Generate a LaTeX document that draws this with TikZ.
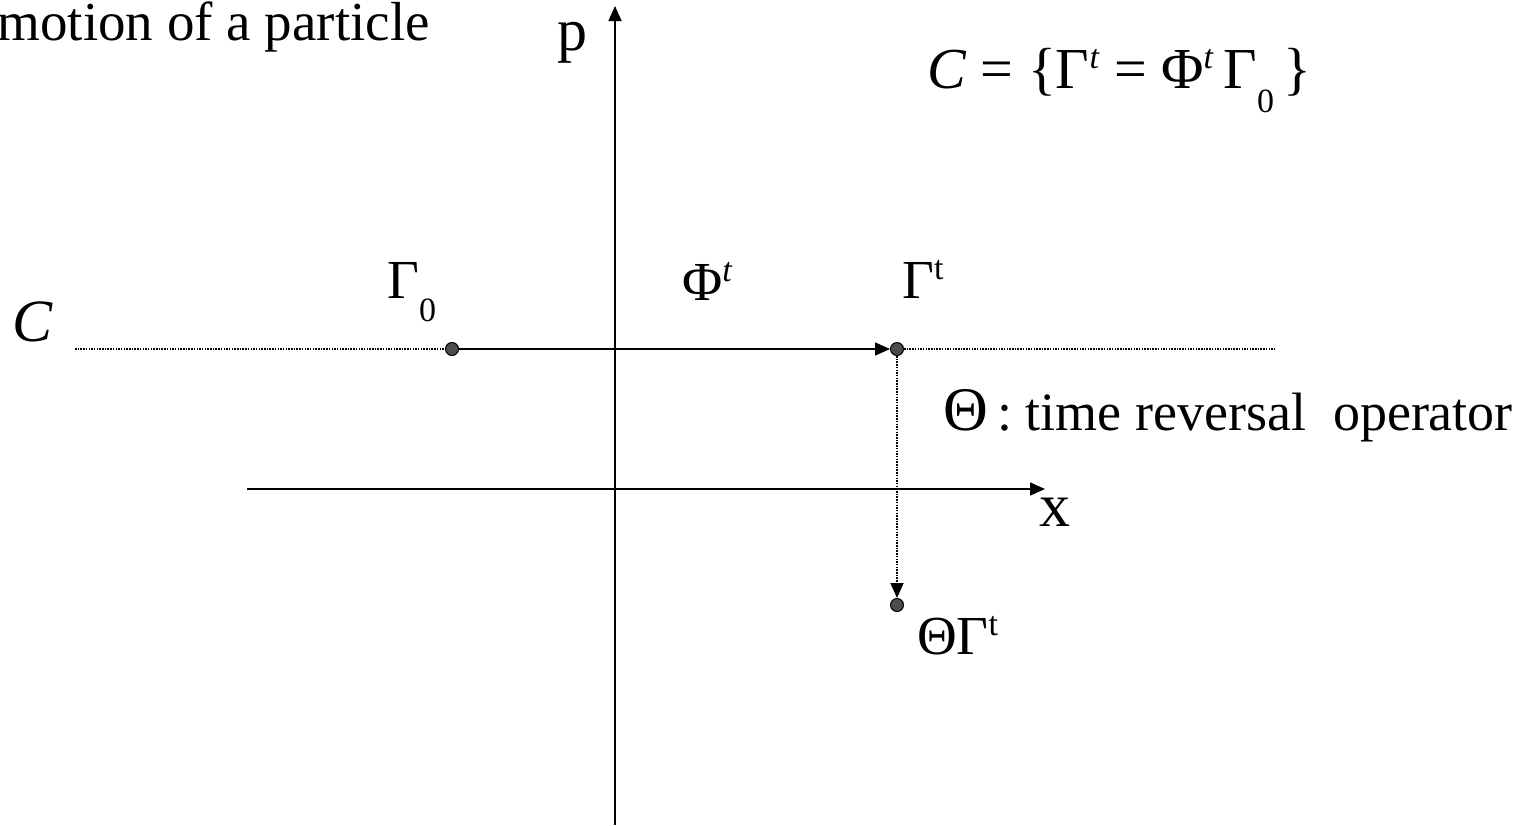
\documentclass[tikz,border=0pt]{standalone}
\usepackage{fontspec}
\setmainfont{Liberation Serif}
\usetikzlibrary{arrows.meta}
\newcommand{\mysup}[1]{\raisebox{0.34em}{\fontsize{34}{34}\selectfont #1}}
\newcommand{\mysub}[1]{\raisebox{-0.42em}{\fontsize{34}{34}\selectfont #1}}
\begin{document}
\begin{tikzpicture}[x=1pt,y=-1pt,
  lbl/.style={inner sep=0pt,font=\fontsize{55}{60}\selectfont},
  axis/.style={line width=1.6pt},
  tip/.style={-{Triangle[length=15pt,width=13pt]}},
  dot/.style={circle,draw=black,fill=black!70,line width=1pt,minimum size=13pt,inner sep=0pt},
  dots/.style={line width=1.8pt,dash pattern=on 1.5pt off 1.2pt}]
\useasboundingbox (0,0) rectangle (1531,825);
% axes
\coordinate (pb) at (615,825);
\coordinate (pt) at (615,6);
\coordinate (xl) at (247,489);
\coordinate (xr) at (1045,489);
\draw[axis,tip] (pb) -- (pt);
\draw[axis,tip] (xl) -- (xr);
\node[lbl,anchor=base] (plab) at (572,50) {\fontsize{60}{60}\selectfont p};
\node[lbl,anchor=base] (xlab) at (1055,526) {\fontsize{62}{62}\selectfont x};
% points
\node[dot] (g0) at (452,349) {};
\node[dot] (gt) at (897,349) {};
\node[dot] (tg) at (897,605) {};
\coordinate (cl) at (75,349);
\coordinate (cr) at (1276,349);
\draw[dots] (cl) -- (g0.west);
\draw[dots] (gt.east) -- ++(16,0) -- (cr);
\draw[axis,tip] (g0) -- (gt.west);
\draw[dots,tip] (gt.south) -- (tg.north);
% labels
\node[lbl,anchor=base east] (motion) at (430,40) {motion of a particle};
\node[lbl,anchor=base west] (form) at (927,88) {\fontsize{58}{66}\selectfont\textit{C} = \{Γ\mysup{\textit{t}} = Φ\mysup{\textit{t}}\,Γ\mysub{0}\,\}};
\node[lbl,anchor=base west] (clab) at (12,341) {\fontsize{60}{60}\selectfont\textit{C}};
\node[lbl,anchor=base west] (g0lab) at (387,298) {Γ\mysub{0}};
\node[lbl,anchor=base west] (philab) at (682,300) {Φ\mysup{\textit{t}}};
\node[lbl,anchor=base west] (gtlab) at (902,298) {Γ\mysup{t}};
\node[lbl,anchor=base west] (thlab) at (943,430) {{\fontsize{62}{62}\selectfont Θ}\,\fontsize{54}{60}\selectfont: time reversal\ \ operator};
\node[lbl,anchor=base west] (tglab) at (917,654) {ΘΓ\mysup{t}};
\end{tikzpicture}
\end{document}
